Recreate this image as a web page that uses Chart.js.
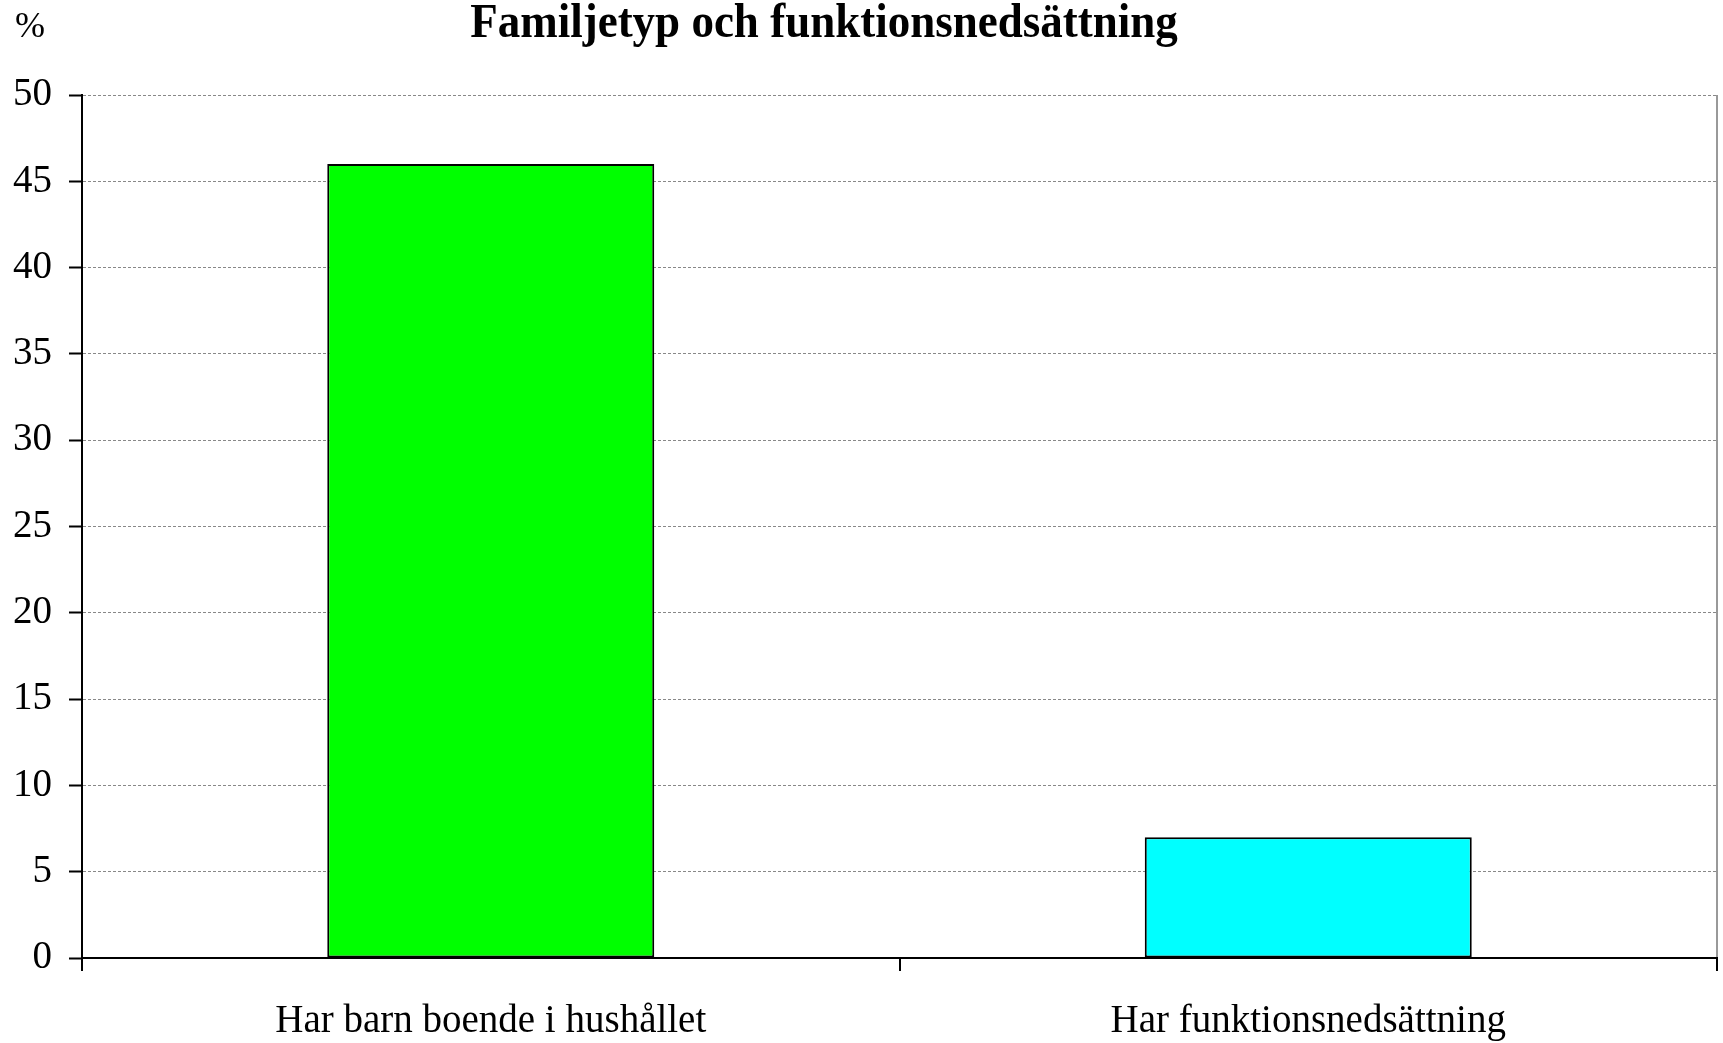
<!DOCTYPE html>
<html>
<head>
<meta charset="utf-8">
<script src="https://cdn.jsdelivr.net/npm/chart.js@4/dist/chart.umd.min.js"></script>
<style>
  html, body { margin: 0; padding: 0; background: #fff; }
  #wrap { width: 1723px; height: 1043px; }
</style>
</head>
<body>
<div id="wrap"><canvas id="chart"></canvas></div>
<script>
const categories = ["Har barn boende i hushållet", "Har funktionsnedsättning"];
const values = [46, 7];
const barColors = ["#00ff00", "#00ffff"];
const yTicks = [0, 5, 10, 15, 20, 25, 30, 35, 40, 45, 50];
const chartTitle = "Familjetyp och funktionsnedsättning";
const unitLabel = "%";

const SERIF = "'Liberation Serif', 'Times New Roman', serif";

// title and "%" drawn by hand, the title is not centred on the plot
const textPlugin = {
  id: "texts",
  afterDraw(chart) {
    const ctx = chart.ctx;
    ctx.save();
    ctx.fillStyle = "#000";
    ctx.textBaseline = "alphabetic";
    ctx.font = "bold 45px " + SERIF;
    ctx.textAlign = "center";
    ctx.translate(824, 37);
    ctx.scale(1, 1.1);
    ctx.fillText(chartTitle, 0, 0);
    ctx.setTransform(1, 0, 0, 1, 0, 0);
    ctx.font = "36px " + SERIF;
    ctx.textAlign = "left";
    ctx.fillText(unitLabel, 15, 37);
    ctx.restore();
  },
};

const ctx = document.getElementById("chart").getContext("2d");
new Chart(ctx, {
  type: "bar",
  data: {
    labels: categories,
    datasets: [
      {
        data: values,
        backgroundColor: barColors,
        borderColor: "#000",
        borderWidth: 2,
        borderSkipped: false,
        categoryPercentage: 1,
        barPercentage: 0.4,
      },
    ],
  },
  options: {
    responsive: true,
    maintainAspectRatio: false,
    animation: false,
    layout: { padding: { top: 95, right: 6, left: 0, bottom: 0 } },
    plugins: {
      legend: { display: false },
      tooltip: { enabled: false },
    },
    scales: {
      x: {
        grid: {
          offset: true,
          color: (c) => (c.type === "tick" ? "rgba(0,0,0,0)" : "#999"),
          lineWidth: 2,
          tickColor: "#000",
          tickLength: 13,
          tickWidth: 2,
        },
        border: { color: "#000", width: 2 },
        ticks: {
          color: "#000",
          font: { family: SERIF, size: 39 },
          padding: 27,
          maxRotation: 0,
        },
        afterFit: (s) => { s.height = 85; },
      },
      y: {
        min: 0,
        max: 50,
        afterBuildTicks: (s) => { s.ticks = yTicks.map((v) => ({ value: v })); },
        grid: {
          color: "#888",
          lineWidth: 1,
          tickColor: "#000",
          tickLength: 13,
          tickWidth: 2,
        },
        border: { color: "#000", width: 2, dash: [3, 2] },
        ticks: {
          color: "#000",
          font: { family: SERIF, size: 39 },
          padding: 17,
        },
        afterFit: (s) => { s.width = 82; },
      },
    },
  },
  plugins: [textPlugin],
});
</script>
</body>
</html>
